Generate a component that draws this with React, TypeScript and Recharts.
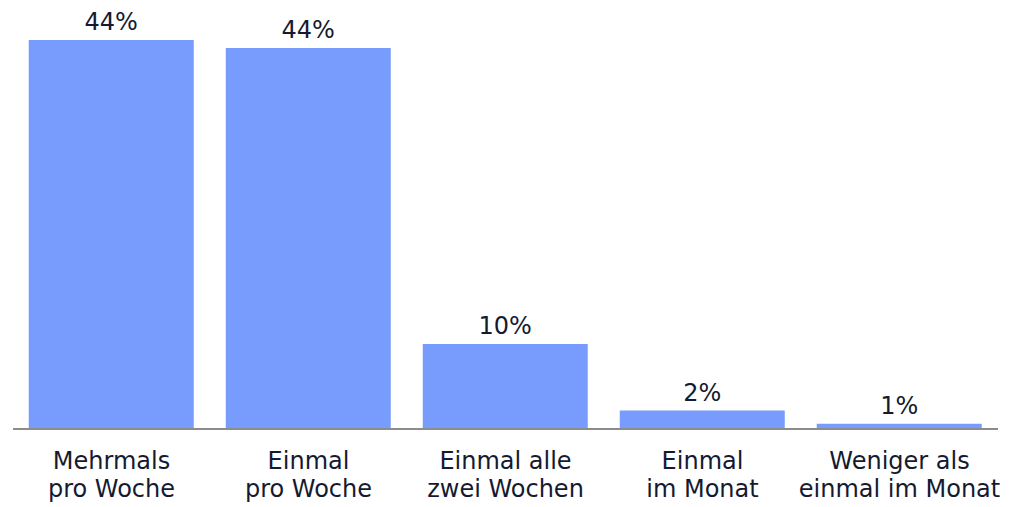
import { Bar, BarChart, LabelList, XAxis, YAxis } from 'recharts';

const categories = [
    ['Mehrmals', 'pro Woche'],
    ['Einmal', 'pro Woche'],
    ['Einmal alle', 'zwei Wochen'],
    ['Einmal', 'im Monat'],
    ['Weniger als', 'einmal im Monat'],
];
const shares = [44.4, 43.5, 9.7, 2.1, 0.6];

const chartData = categories.map((lines, i) => ({
    key: lines.join(' '),
    share: shares[i],
}));

const FONT = '"DejaVu Sans", sans-serif';
const TEXT = '#151a30';

const CategoryTick = (props: any) => {
    const { x, y, index } = props;
    const lines = categories[index] ?? [];
    return (
        <text x={x} y={y} textAnchor="middle" fill={TEXT} fontSize={24} fontFamily={FONT}>
            {lines.map((line, i) => (
                <tspan key={i} x={x} dy={i === 0 ? 32 : 28}>
                    {line}
                </tspan>
            ))}
        </text>
    );
};

export default function App() {
    return (
        <div style={{ position: 'absolute', top: 0, left: 0 }}>
            <BarChart
                width={1013}
                height={507}
                data={chartData}
                margin={{ top: 40, right: 15, bottom: 0, left: 13 }}
                barCategoryGap="8%">
                <XAxis
                    dataKey="key"
                    height={78}
                    interval={0}
                    tickLine={false}
                    axisLine={{ stroke: '#8c8c8c', strokeWidth: 2 }}
                    tick={<CategoryTick />}
                />
                <YAxis hide domain={[0, 'dataMax']} />
                <Bar dataKey="share" fill="#779cfd" isAnimationActive={false}>
                    <LabelList
                        dataKey="share"
                        position="top"
                        offset={10}
                        formatter={(v: any) => `${Math.round(v)}%`}
                        fill={TEXT}
                        fontSize={24}
                        fontFamily={FONT}
                    />
                </Bar>
            </BarChart>
        </div>
    );
}
